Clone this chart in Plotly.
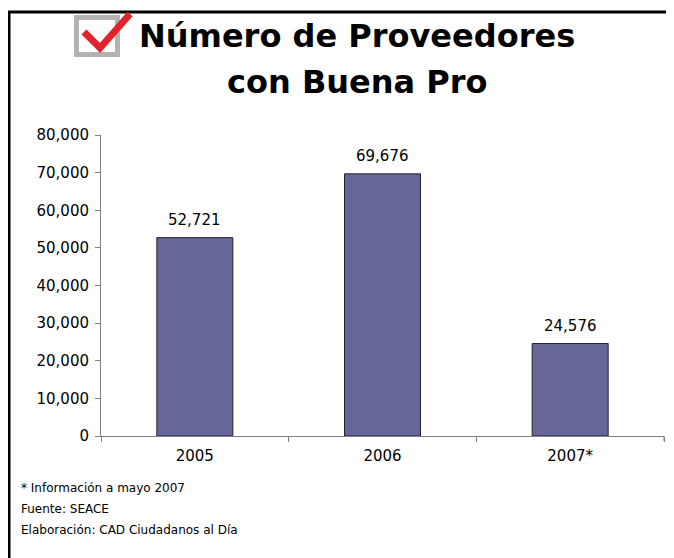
import plotly.graph_objects as go

categories = ["2005", "2006", "2007*"]
values = [52721, 69676, 24576]
labels = ["52,721", "69,676", "24,576"]
y_ticks = [0, 10000, 20000, 30000, 40000, 50000, 60000, 70000, 80000]
y_tick_text = ["0", "10,000", "20,000", "30,000", "40,000", "50,000", "60,000", "70,000", "80,000"]
notes = ["* Información a mayo 2007", "Fuente: SEACE", "Elaboración: CAD Ciudadanos al Día"]

# The page body adds an 8px offset; figure is sized to fill the rest of the window.
OFF = 8
W, H = 674 - OFF, 558 - OFF
# plot area in window pixels
PL, PR, PT, PB = 101, 664, 135, 436

FONT = "DejaVu Sans, Verdana, sans-serif"
TITLE_FONT = "DejaVu Sans, Verdana, sans-serif"


def px(x):
    return (x - PL) / (PR - PL)


def py(y):
    return (PB - y) / (PB - PT)


fig = go.Figure()
fig.add_trace(go.Bar(
    x=categories, y=values,
    marker=dict(color="#666699", line=dict(color="#222233", width=1)),
    hoverinfo="skip",
))

shapes = [
    # frame: top and left lines
    dict(type="line", xref="paper", yref="paper", x0=px(8), x1=px(700), y0=py(12), y1=py(12),
         line=dict(color="black", width=3)),
    dict(type="line", xref="paper", yref="paper", x0=px(9), x1=px(9), y0=py(12), y1=py(600),
         line=dict(color="black", width=3)),
    # checkbox square
    dict(type="rect", xref="paper", yref="paper", x0=px(76.5), x1=px(117.5), y0=py(17.5), y1=py(54.5),
         line=dict(color="#b3b3b5", width=5), fillcolor="rgba(0,0,0,0)"),
    # red check mark
    dict(type="path", xref="paper", yref="paper",
         path=f"M {px(84)},{py(32)} L {px(100)},{py(48)} L {px(130)},{py(14)}",
         line=dict(color="#e3232b", width=7)),
    # x-axis end tick
    dict(type="line", xref="paper", yref="paper", x0=px(664), x1=px(664), y0=py(436), y1=py(441),
         line=dict(color="#808080", width=1)),
]

annotations = [
    dict(text="<b>Número de Proveedores</b>", xref="paper", yref="paper",
         x=px(357), y=py(36), xanchor="center", yanchor="middle", showarrow=False,
         font=dict(size=32, color="black", family=TITLE_FONT)),
    dict(text="<b>con Buena Pro</b>", xref="paper", yref="paper",
         x=px(357), y=py(82), xanchor="center", yanchor="middle", showarrow=False,
         font=dict(size=32, color="black", family=TITLE_FONT)),
]
for t, yy in zip(notes, [488, 509, 530]):
    annotations.append(dict(text=t, xref="paper", yref="paper", x=px(19), y=py(yy),
                            xanchor="left", yanchor="middle", showarrow=False,
                            font=dict(size=12, color="black", family=FONT)))
# value labels: category axis annotations use the category index
for i, (v, lab) in enumerate(zip(values, labels)):
    annotations.append(dict(text=lab, x=i, y=v, xref="x", yref="y",
                            xanchor="center", yanchor="bottom", yshift=7, showarrow=False,
                            font=dict(size=15, color="black", family=FONT)))

fig.update_layout(
    width=W, height=H,
    margin=dict(l=PL - OFF, r=(674 - PR), t=PT - OFF, b=558 - PB),
    paper_bgcolor="white", plot_bgcolor="white",
    bargap=0.595, showlegend=False,
    font=dict(family=FONT, size=15, color="black"),
    shapes=shapes, annotations=annotations,
    xaxis=dict(type="category", range=[-0.5, len(categories) - 0.5],
               showline=True, linecolor="#808080", linewidth=1,
               ticks="outside", ticklen=5, tickcolor="#808080",
               tickson="boundaries", showgrid=False, ticklabelstandoff=6,
               tickfont=dict(size=15, color="black", family=FONT)),
    yaxis=dict(range=[0, 80000], tickvals=y_ticks, ticktext=y_tick_text,
               showline=True, linecolor="#808080", linewidth=1,
               ticks="outside", ticklen=5, tickcolor="#808080",
               showgrid=False, zeroline=False, ticklabelstandoff=3,
               tickfont=dict(size=15, color="black", family=FONT)),
)

fig.write_html("out.html")
